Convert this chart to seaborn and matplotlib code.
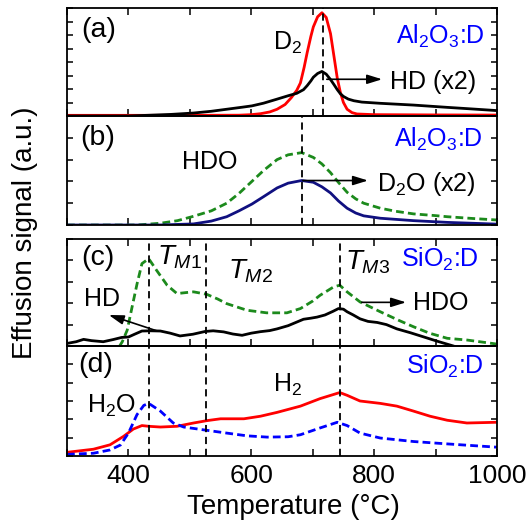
import matplotlib
matplotlib.use("Agg")
import matplotlib.pyplot as plt
import seaborn as sns
import pandas as pd

# ---------------- data ----------------
# (a) Al2O3:D
a_d2_T = [300, 400, 500, 580, 600, 615, 630, 642, 655, 665, 674, 680, 686, 691, 697, 701, 708, 715,
          722, 729, 735, 740, 745, 750, 756, 764, 772, 800, 900, 1000]
a_d2_v = [0.05, 0.05, 0.05, 0.06, 0.1, 0.17, 0.3, 0.5, 0.85, 1.35, 1.9, 2.45, 3.6, 4.7, 5.9, 6.6, 7.35, 7.65,
          7.3, 6.1, 4.3, 2.8, 1.75, 1.0, 0.5, 0.25, 0.15, 0.1, 0.08, 0.07]
a_hd_T = [300, 400, 430, 470, 506, 535, 560, 585, 601, 620, 642, 660, 674, 685, 691, 697, 701, 708, 715,
          722, 729, 735, 740, 745, 750, 758, 767, 780, 810, 864, 919, 960, 1000]
a_hd_v = [0.0, 0.0, 0.05, 0.12, 0.22, 0.35, 0.5, 0.65, 0.75, 0.95, 1.25, 1.5, 1.68, 1.95, 2.25, 2.6, 2.87, 3.15, 3.3,
          3.1, 2.7, 2.3, 1.95, 1.65, 1.45, 1.25, 1.13, 1.03, 0.94, 0.81, 0.64, 0.52, 0.4]

# (b) Al2O3:D
b_hdo_T = [300, 414, 452, 480, 506, 535, 560, 580, 601, 620, 642, 660, 682, 701, 715, 729, 742, 756, 770,
           783, 810, 835, 864, 900, 919, 960, 1000]
b_hdo_v = [0.0, 0.0, 0.08, 0.2, 0.4, 0.65, 1.0, 1.45, 2.0, 2.5, 3.0, 3.22, 3.32, 3.1, 2.8, 2.4, 1.95, 1.5, 1.2,
           1.0, 0.77, 0.63, 0.51, 0.43, 0.38, 0.3, 0.23]
b_d2o_T = [300, 452, 506, 535, 560, 580, 601, 620, 642, 660, 682, 701, 715, 729, 742, 756, 770, 783, 810,
           864, 919, 1000]
b_d2o_v = [0.0, 0.0, 0.05, 0.18, 0.38, 0.65, 0.96, 1.3, 1.7, 1.92, 2.04, 1.96, 1.75, 1.47, 1.1, 0.77, 0.55, 0.42, 0.31,
           0.2, 0.12, 0.04]

# (c) SiO2:D
c_hdo_T = [375, 390, 398, 406, 414, 422, 433, 446, 463, 479, 495, 506, 527, 545, 560, 593, 625, 658, 680,
           700, 712, 734, 744, 756, 777, 810, 840, 864, 890, 919, 951, 1000]
c_hdo_v = [-0.5, 0.2, 0.74, 1.83, 2.9, 3.85, 4.08, 3.53, 2.84, 2.45, 2.5, 2.53, 2.42, 2.2, 1.98, 1.67, 1.55, 1.55, 1.75,
           2.1, 2.37, 2.76, 2.84, 2.53, 2.06, 1.6, 1.2, 0.9, 0.6, 0.36, 0.28, 0.09]
c_hd_T = [300, 315, 327, 340, 359, 375, 389, 400, 410, 422, 437, 452, 468, 484, 505, 525, 538, 555, 570, 585,
          600, 615, 630, 642, 660, 675, 685, 697, 707, 720, 733, 742, 750, 756, 766, 777, 790, 805, 820, 837,
          859, 880, 902, 929, 945]
c_hd_v = [0.12, 0.2, 0.31, 0.25, 0.2, 0.3, 0.4, 0.42, 0.55, 0.7, 0.71, 0.7, 0.6, 0.47, 0.55, 0.68, 0.71, 0.66, 0.56, 0.5,
          0.6, 0.67, 0.72, 0.8, 0.95, 1.13, 1.25, 1.3, 1.35, 1.45, 1.62, 1.75, 1.72, 1.6, 1.45, 1.27, 1.15, 1.1, 1.0, 0.8,
          0.62, 0.43, 0.23, 0.0, -0.15]

# (d) SiO2:D
d_h2_T = [300, 343, 370, 392, 408, 422, 433, 452, 479, 506, 528, 550, 588, 615, 642, 680, 712, 744, 756,
          777, 810, 837, 864, 891, 919, 951, 1000]
d_h2_v = [0.2, 0.37, 0.61, 1.07, 1.47, 1.66, 1.62, 1.58, 1.62, 1.8, 1.93, 2.03, 2.03, 2.17, 2.38, 2.72, 3.13, 3.46, 3.31,
          3.0, 2.87, 2.72, 2.45, 2.17, 1.95, 1.8, 1.84]
d_h2o_T = [300, 343, 370, 387, 400, 414, 425, 433, 452, 473, 490, 528, 560, 593, 626, 660, 680, 712, 740,
           756, 777, 810, 864, 919, 1000]
d_h2o_v = [0.09, 0.15, 0.33, 0.6, 1.25, 2.26, 2.76, 2.87, 2.45, 1.8, 1.58, 1.4, 1.25, 1.1, 1.03, 1.05, 1.16, 1.53, 1.84,
           1.66, 1.25, 0.98, 0.79, 0.66, 0.48]

peak_a = [716]
peak_b = [683]
peak_cd = [433, 527, 744]
tm_labels = ["$\\mathit{T}_{\\mathit{M1}}$", "$\\mathit{T}_{\\mathit{M2}}$", "$\\mathit{T}_{\\mathit{M3}}$"]
x_ticks = [300, 400, 500, 600, 700, 800, 900, 1000]
x_tick_labels = ["", "400", "", "600", "", "800", "", "1000"]

# ---------------- style ----------------
sns.set_style("ticks")
plt.rcParams["font.family"] = ["Liberation Sans", "DejaVu Sans"]
plt.rcParams["mathtext.fontset"] = "custom"
plt.rcParams["mathtext.rm"] = "Liberation Sans"
plt.rcParams["mathtext.it"] = "Liberation Sans:italic"
plt.rcParams["mathtext.bf"] = "Liberation Sans:bold"
for k in ["text.color", "axes.labelcolor", "xtick.color", "ytick.color", "axes.edgecolor"]:
    plt.rcParams[k] = "black"

W, H = 527, 523
fig = plt.figure(figsize=(W / 100, H / 100), dpi=100)


def add_ax(top, bottom):
    return fig.add_axes([67 / W, 1 - bottom / H, 430 / W, (bottom - top) / H])


ax_a = add_ax(8, 116)
ax_b = add_ax(116, 225)
ax_c = add_ax(239, 346)
ax_d = add_ax(346, 456)

TXT = 18
LW = 2.0
GREEN = "#1c8a1c"
NAVY = "#101080"
DASH = (0, (2.8, 1.5))
VDASH = (0, (4.0, 2.6))


def line(ax, T, v, color, ls="-"):
    df = pd.DataFrame({"T": T, "v": v})
    sns.lineplot(data=df, x="T", y="v", ax=ax, color=color, lw=LW, linestyle=ls, sort=False,
                 estimator=None)


def style(ax, ymax, top, labelbottom):
    ax.set_xlim(300, 1000)
    ax.set_ylim(0, ymax)
    ax.set_xlabel("")
    ax.set_ylabel("")
    ax.set_xticks(x_ticks)
    ax.set_xticklabels(x_tick_labels if labelbottom else [""] * len(x_ticks))
    ax.set_yticks(range(0, ymax + 1))
    ax.tick_params(axis="x", direction="in", length=5, width=1.1, top=top, bottom=True,
                   labelbottom=labelbottom, labelsize=19, pad=6, colors="black")
    ax.tick_params(axis="y", direction="in", length=4, width=1.1, left=True, right=True,
                   labelleft=False, labelright=False, colors="black")
    for s in ax.spines.values():
        s.set_linewidth(1.3)
        s.set_color("black")
        s.set_visible(True)
    ax.patch.set_alpha(0)


def arrow(ax, tail, head):
    ax.annotate("", xy=head, xytext=tail,
                arrowprops=dict(arrowstyle="-|>,head_length=0.45,head_width=0.14", color="black",
                                lw=1.2, mutation_scale=20, shrinkA=0, shrinkB=0))


# (a)
line(ax_a, a_d2_T, a_d2_v, "#ff0000")
line(ax_a, a_hd_T, a_hd_v, "black")
for t in peak_a:
    ax_a.axvline(t, color="black", lw=1.3, ls=VDASH)
style(ax_a, 8, True, False)
ax_a.text(323, 6.35, "(a)", fontsize=20.5, va="center", ha="left", color="black")
ax_a.text(635, 4.9, "D$_2$", fontsize=TXT, va="baseline", ha="left", color="black")
ax_a.text(978, 5.33, "Al$_2$O$_3$:D", fontsize=TXT, va="baseline", ha="right", color="#0000ff")
arrow(ax_a, (723, 2.72), (813, 2.72))
ax_a.text(826, 1.98, "HD (x2)", fontsize=TXT, va="baseline", ha="left", color="black")

# (b)
line(ax_b, b_hdo_T, b_hdo_v, GREEN, DASH)
line(ax_b, b_d2o_T, b_d2o_v, NAVY)
for t in peak_b:
    ax_b.axvline(t, color="black", lw=1.3, ls=VDASH)
style(ax_b, 5, False, False)
ax_b.text(321, 4.0, "(b)", fontsize=20.5, va="center", ha="left", color="black")
ax_b.text(487, 2.55, "HDO", fontsize=TXT, va="baseline", ha="left", color="black")
ax_b.text(976, 3.6, "Al$_2$O$_3$:D", fontsize=TXT, va="baseline", ha="right", color="#0000ff")
arrow(ax_b, (684, 2.04), (790, 2.04))
ax_b.text(805, 1.54, "D$_2$O (x2)", fontsize=TXT, va="baseline", ha="left", color="black")

# (c)
line(ax_c, c_hdo_T, c_hdo_v, GREEN, DASH)
line(ax_c, c_hd_T, c_hd_v, "black")
for t in peak_cd:
    ax_c.axvline(t, color="black", lw=1.3, ls=VDASH)
style(ax_c, 5, True, False)
ax_c.text(323, 4.11, "(c)", fontsize=20.5, va="center", ha="left", color="black")
for (tx, ty), lab in zip([(446, 3.79), (562, 3.16), (752, 3.58)], tm_labels):
    ax_c.text(tx, ty, lab, fontsize=TXT + 2, va="baseline", ha="left", color="black")
ax_c.text(970, 3.7, "SiO$_2$:D", fontsize=TXT, va="baseline", ha="right", color="#0000ff")
ax_c.text(327, 1.87, "HD", fontsize=TXT, va="baseline", ha="left", color="black")
arrow(ax_c, (446, 0.71), (368, 1.45))
arrow(ax_c, (780, 2.04), (852, 2.04))
ax_c.text(864, 1.68, "HDO", fontsize=TXT, va="baseline", ha="left", color="black")

# (d)
line(ax_d, d_h2_T, d_h2_v, "#ff0000")
line(ax_d, d_h2o_T, d_h2o_v, "#0000ff", DASH)
for t in peak_cd:
    ax_d.axvline(t, color="black", lw=1.3, ls=VDASH)
style(ax_d, 6, False, True)
ax_d.text(318, 4.95, "(d)", fontsize=20.5, va="center", ha="left", color="black")
ax_d.text(332, 2.35, "H$_2$O", fontsize=TXT, va="baseline", ha="left", color="black")
ax_d.text(636, 3.48, "H$_2$", fontsize=TXT, va="baseline", ha="left", color="black")
ax_d.text(978, 4.5, "SiO$_2$:D", fontsize=TXT, va="baseline", ha="right", color="#0000ff")

fig.text(293 / W, 1 - 507 / H, "Temperature (\u00b0C)", fontsize=20, ha="center", va="center",
         color="black")
fig.text(25 / W, 1 - 233 / H, "Effusion signal (a.u.)", fontsize=20, ha="center", va="center",
         rotation=90, color="black")

fig.savefig("out.png", dpi=100)
